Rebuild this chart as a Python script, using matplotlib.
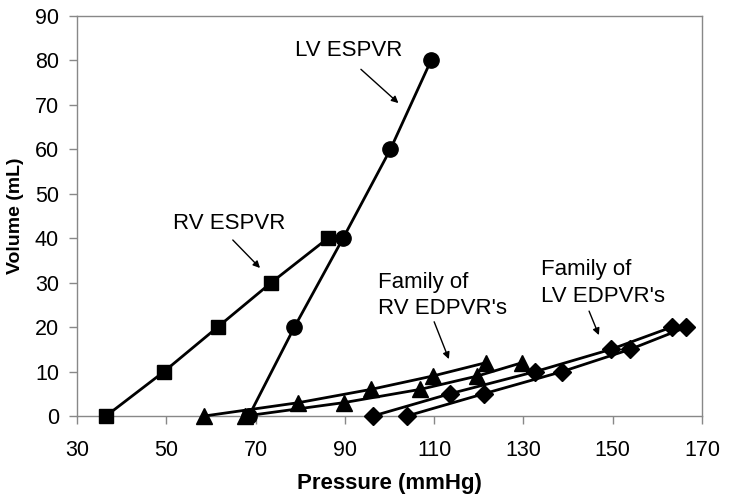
import matplotlib
matplotlib.use("Agg")
import matplotlib.pyplot as plt

plt.rcParams['font.family'] = ['Liberation Sans', 'DejaVu Sans']

# Data
rv_espvr_p = [36.5, 49.5, 61.5, 73.5, 86.2]
rv_espvr_v = [0, 10, 20, 30, 40]
lv_espvr_p = [68.5, 78.7, 89.6, 100.2, 109.3]
lv_espvr_v = [0, 20, 40, 60, 80]
rv_edpvr_a_p = [58.5, 79.6, 95.9, 109.7, 121.6]
rv_edpvr_b_p = [67.7, 89.7, 106.9, 119.7, 129.7]
rv_edpvr_v = [0, 3, 6, 9, 12]
lv_edpvr_a_p = [96.3, 113.5, 132.7, 149.6, 163.2]
lv_edpvr_b_p = [103.9, 121.1, 138.7, 153.9, 166.5]
lv_edpvr_v = [0, 5, 10, 15, 20]
x_ticks = [30, 50, 70, 90, 110, 130, 150, 170]
y_ticks = [0, 10, 20, 30, 40, 50, 60, 70, 80, 90]

fig = plt.figure(figsize=(7.29, 4.99), dpi=100)
ax = fig.add_axes([0.1056, 0.1663, 0.963 - 0.1056, 0.968 - 0.1663])

lw = 2.0
ax.plot(rv_espvr_p, rv_espvr_v, color='black', lw=lw, marker='s', ms=10, clip_on=False, zorder=3)
ax.plot(lv_espvr_p, lv_espvr_v, color='black', lw=lw, marker='o', ms=11, clip_on=False, zorder=3)
ax.plot(rv_edpvr_a_p, rv_edpvr_v, color='black', lw=lw, marker='^', ms=11, clip_on=False, zorder=3)
ax.plot(rv_edpvr_b_p, rv_edpvr_v, color='black', lw=lw, marker='^', ms=11, clip_on=False, zorder=3)
ax.plot(lv_edpvr_a_p, lv_edpvr_v, color='black', lw=lw, marker='D', ms=9, clip_on=False, zorder=3)
ax.plot(lv_edpvr_b_p, lv_edpvr_v, color='black', lw=lw, marker='D', ms=9, clip_on=False, zorder=3)

ax.set_xlim(30, 170)
ax.set_ylim(0, 90)
ax.set_xticks(x_ticks)
ax.set_yticks(y_ticks)
ax.tick_params(axis='both', direction='out', length=6, width=1, color='#888888',
               labelsize=15.5)
ax.tick_params(axis='x', pad=11)
ax.tick_params(axis='y', pad=7)
for s in ax.spines.values():
    s.set_color('#888888')
    s.set_linewidth(1)

ax.set_xlabel('Pressure (mmHg)', fontsize=16, fontweight='bold', labelpad=9)
ax.set_ylabel('Volume (mL)', fontsize=14, fontweight='bold', labelpad=8)

arrow = dict(arrowstyle='-|>', color='black', lw=1, mutation_scale=10, shrinkA=0, shrinkB=0)
tfs = 16
ax.text(78.8, 84.6, 'LV ESPVR', fontsize=tfs, ha='left', va='top')
ax.text(51.5, 45.7, 'RV ESPVR', fontsize=tfs, ha='left', va='top')
ax.text(97.4, 32.4, "Family of\nRV EDPVR's", fontsize=tfs, ha='left', va='top', linespacing=1.34)
ax.text(133.9, 35.3, "Family of\nLV EDPVR's", fontsize=tfs, ha='left', va='top', linespacing=1.34)

ax.annotate('', xy=(102.0, 70.4), xytext=(93.6, 78.0), arrowprops=arrow)
ax.annotate('', xy=(71.0, 33.3), xytext=(64.9, 39.6), arrowprops=arrow)
ax.annotate('', xy=(113.3, 12.8), xytext=(110.0, 21.2), arrowprops=arrow)
ax.annotate('', xy=(146.9, 18.2), xytext=(144.7, 23.6), arrowprops=arrow)
plt.savefig('out.png', dpi=100)
